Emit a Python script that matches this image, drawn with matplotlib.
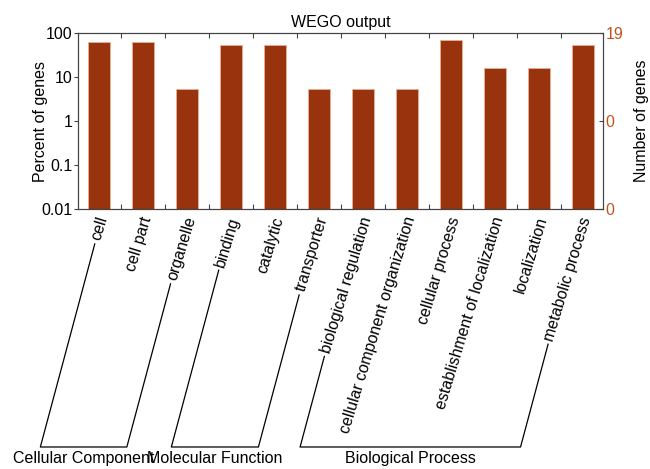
import matplotlib.pyplot as plt
import matplotlib.transforms as mtransforms
from matplotlib.lines import Line2D
import numpy as np

plt.rcParams['font.family'] = ['Liberation Sans', 'DejaVu Sans']

# GO terms and gene counts (19 genes in total)
terms = ['cell', 'cell part', 'organelle', 'binding', 'catalytic', 'transporter',
         'biological regulation', 'cellular component organization',
         'cellular process', 'establishment of localization', 'localization',
         'metabolic process']
counts = [12, 12, 1, 10, 10, 1, 1, 1, 13, 3, 3, 10]
total_genes = 19
groups = ['Cellular Component', 'Molecular Function', 'Biological Process']
group_spans = [(0, 2), (3, 5), (6, 11)]
left_ticks = [100, 10, 1, 0.1, 0.01]

percent = np.array(counts) / total_genes * 100

W, H = 650, 469
fig = plt.figure(figsize=(W / 100, H / 100), dpi=100)
ax = fig.add_axes([78 / W, 1 - 209 / H, 525 / W, 176 / H])

bar_color = '#98330e'
axis_color = '#444444'
right_color = '#c4521d'
fs = 11.5

x = np.arange(len(terms))
ax.bar(x, percent, width=0.5, color=bar_color, edgecolor='#e8b090', linewidth=0.6)
ax.set_yscale('log')
ax.set_ylim(0.01, 100)
ax.set_xlim(-0.477, 11.455)
ax.minorticks_off()
ax.set_yticks(left_ticks)
ax.set_yticklabels(['100', '10', '1', '0.1', '0.01'], fontsize=fs)
ax.set_xticks(np.arange(0.5, len(terms) - 1, 1))
ax.set_xticklabels([])
ax.tick_params(axis='x', direction='in', top=True, length=3.5, color=axis_color)
ax.tick_params(axis='y', direction='out', length=3, color=axis_color, pad=1)
for sp in ax.spines.values():
    sp.set_color(axis_color)
ax.set_ylabel('Percent of genes', fontsize=fs)
ax.yaxis.set_label_coords(-0.057, 0.5)
ax.set_title('WEGO output', fontsize=fs, pad=4)

# right axis: number of genes
ax2 = ax.twinx()
ax2.set_yscale('log')
ax2.set_ylim(0.01, 100)
ax2.minorticks_off()
right_ticks = [100, 1, 0.01]
ax2.set_yticks(right_ticks)
ax2.set_yticklabels([str(int(round(total_genes * v / 100))) for v in right_ticks],
                    fontsize=fs, color=right_color)
ax2.tick_params(axis='y', direction='in', length=3, color=axis_color, pad=2)
for sp in ax2.spines.values():
    sp.set_color(axis_color)
ax2.set_ylabel('Number of genes', fontsize=fs)
ax2.yaxis.set_label_coords(1.059, 0.5)

# rotated term labels below the bars
angle = 73
ang = np.deg2rad(angle)
trans = mtransforms.blended_transform_factory(ax.transData, ax.transAxes)
offset = mtransforms.ScaledTranslation(4 / 100, -8 / 100, fig.dpi_scale_trans)
labels = []
for i, t in enumerate(terms):
    labels.append(ax.text(i, 0, t, transform=trans + offset, rotation=angle,
                          rotation_mode='anchor', ha='right', va='center',
                          fontsize=fs))

fig.canvas.draw()
renderer = fig.canvas.get_renderer()


def label_start(i):
    # lower end of a rotated label, in display pixels
    tl = labels[i]
    ax_disp = tl.get_transform().transform(tl.get_position())
    probe = fig.text(0, 0, tl.get_text(), fontsize=fs)
    w = probe.get_window_extent(renderer).width
    probe.remove()
    d = w + 4
    return ax_disp[0] - d * np.cos(ang), ax_disp[1] - d * np.sin(ang)


# brackets joining each GO category's terms
base_y = H - 447
line_ang = np.deg2rad(75)
for name, (i0, i1) in zip(groups, group_spans):
    x0, y0 = label_start(i0)
    x1, y1 = label_start(i1)
    bx0 = x0 - (y0 - base_y) / np.tan(line_ang)
    bx1 = x1 - (y1 - base_y) / np.tan(line_ang)
    xs = np.array([x0, bx0, bx1, x1]) / W
    ys = np.array([y0, base_y, base_y, y1]) / H
    fig.add_artist(Line2D(xs, ys, transform=fig.transFigure, color='black', lw=0.9))
    fig.text((bx0 + bx1) / 2 / W, 1 - 458 / H, name, ha='center', va='center',
             fontsize=fs)

fig.savefig('out.png', dpi=100)
